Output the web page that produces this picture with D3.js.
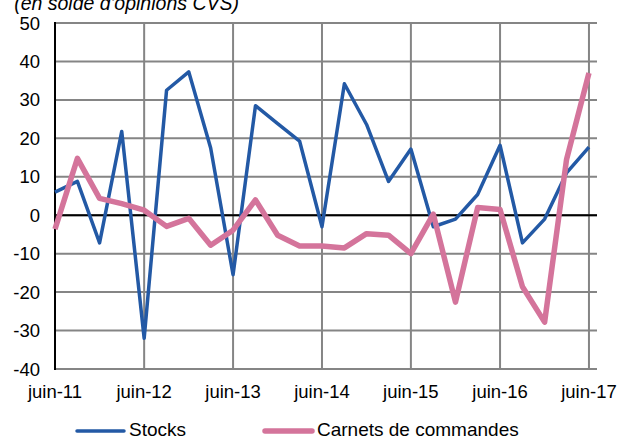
<!DOCTYPE html>
<html lang="fr">
<head>
<meta charset="UTF-8">
<title>Stocks et carnets de commandes</title>
<style>
  body { margin: 0; background: #fff; }
  svg text { font-family: "Liberation Sans", Arial, sans-serif; fill: #000; }
</style>
</head>
<body>
<svg width="624" height="439"></svg>
<script src="https://cdnjs.cloudflare.com/ajax/libs/d3/7.8.5/d3.min.js"></script>
<script>
// trimestres, de juin-11 à juin-17
const dates = [
  '2011-06', '2011-09', '2011-12', '2012-03',
  '2012-06', '2012-09', '2012-12', '2013-03',
  '2013-06', '2013-09', '2013-12', '2014-03',
  '2014-06', '2014-09', '2014-12', '2015-03',
  '2015-06', '2015-09', '2015-12', '2016-03',
  '2016-06', '2016-09', '2016-12', '2017-03',
  '2017-06'
];
const stocks = [6, 8.8, -7.2, 21.8, -32, 32.5, 37.3, 17.5, -15.5, 28.5, 23.8, 19.3,
  -3, 34.2, 23.6, 8.8, 17.2, -3, -1, 5.4, 18.2, -7.2, -1, 11, 17.7];
const carnets = [-3.6, 14.8, 4.4, 3, 1.3, -2.9, -0.8, -7.8, -3.9, 4, -5.2, -8,
  -8, -8.5, -4.8, -5.2, -10, 0.3, -22.6, 2, 1.5, -18.6, -27.8, 14.5, 37];
const yTicks = [-40, -30, -20, -10, 0, 10, 20, 30, 40, 50];
const xTickLabels = ['juin-11', 'juin-12', 'juin-13', 'juin-14', 'juin-15', 'juin-16', 'juin-17'];

const parseMonth = d3.timeParse('%Y-%m');

const svg = d3.select('svg');
const mLeft = 55, mRight = 597, mTop = 23, mBottom = 369;

// axe des dates : juin-11 -> un peu après juin-17
const x = d3.scaleTime()
  .domain([parseMonth('2011-06'), new Date(2017, 6, 4)])
  .range([mLeft, mRight]);
const y = d3.scaleLinear().domain([-40, 50]).range([mBottom, mTop]);

const xTicks = xTickLabels.map(s => ({ label: s, date: new Date(2000 + (+s.slice(5)), 5, 1) }));

// grille horizontale
svg.append('g')
  .selectAll('line')
  .data(yTicks)
  .enter()
  .append('line')
  .attr('x1', mLeft).attr('x2', mRight)
  .attr('y1', d => y(d)).attr('y2', d => y(d))
  .attr('stroke', '#858585')
  .attr('stroke-width', 2);

// grille verticale
svg.append('g')
  .selectAll('line')
  .data(xTicks.slice(1))
  .enter()
  .append('line')
  .attr('x1', d => x(d.date)).attr('x2', d => x(d.date))
  .attr('y1', mTop).attr('y2', mBottom)
  .attr('stroke', '#858585')
  .attr('stroke-width', 2);

// axe vertical + ligne du zéro
svg.append('line')
  .attr('x1', mLeft).attr('x2', mLeft)
  .attr('y1', mTop - 1).attr('y2', mBottom + 1)
  .attr('stroke', '#000').attr('stroke-width', 2);
svg.append('line')
  .attr('x1', mLeft).attr('x2', mRight)
  .attr('y1', y(0)).attr('y2', y(0))
  .attr('stroke', '#000').attr('stroke-width', 2);

// étiquettes de l'axe y
svg.append('g')
  .selectAll('text')
  .data(yTicks)
  .enter()
  .append('text')
  .attr('x', 40)
  .attr('y', d => y(d) + 6.5)
  .attr('text-anchor', 'end')
  .attr('font-size', 18.5)
  .text(d => d);

// étiquettes de l'axe x
svg.append('g')
  .selectAll('text')
  .data(xTicks)
  .enter()
  .append('text')
  .attr('x', d => x(d.date))
  .attr('y', 398)
  .attr('text-anchor', 'middle')
  .attr('font-size', 18.5)
  .text(d => d.label);

// titre (coupé en haut comme l'original)
svg.append('text')
  .attr('x', 239)
  .attr('y', 10)
  .attr('text-anchor', 'end')
  .attr('font-size', 19.5)
  .attr('font-style', 'italic')
  .text("(en solde d'opinions CVS)");

const line = vals => d3.line()
  .x((d, i) => x(parseMonth(dates[i])))
  .y(d => y(d))(vals);

svg.append('path')
  .attr('d', line(stocks))
  .attr('fill', 'none')
  .attr('stroke', '#2359a5')
  .attr('stroke-width', 3.5)
  .attr('stroke-linejoin', 'round');

svg.append('path')
  .attr('d', line(carnets))
  .attr('fill', 'none')
  .attr('stroke', '#d4749b')
  .attr('stroke-width', 5.5)
  .attr('stroke-linejoin', 'round');

// légende
const legend = [
  { name: 'Stocks', color: '#2359a5', w: 3.5, x: 77 },
  { name: 'Carnets de commandes', color: '#d4749b', w: 5.5, x: 265 }
];
const lg = svg.append('g').selectAll('g').data(legend).enter().append('g');
lg.append('line')
  .attr('x1', d => d.x).attr('x2', d => d.x + 47)
  .attr('y1', 431).attr('y2', 431)
  .attr('stroke', d => d.color)
  .attr('stroke-width', d => d.w)
  .attr('stroke-linecap', 'round');
lg.append('text')
  .attr('x', d => d.x + 52)
  .attr('y', 436)
  .attr('font-size', 19)
  .text(d => d.name);
</script>
</body>
</html>
